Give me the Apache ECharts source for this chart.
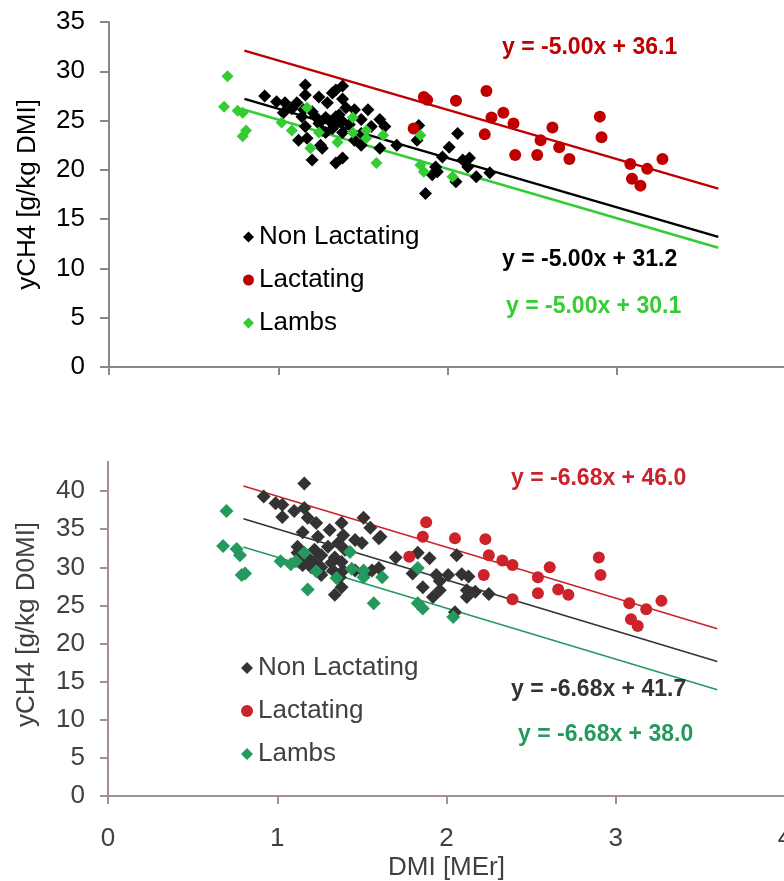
<!DOCTYPE html>
<html>
<head>
<meta charset="utf-8">
<script src="https://cdn.jsdelivr.net/npm/echarts@6/dist/echarts.min.js"></script>
<style>
  html, body { margin: 0; padding: 0; background: #fff; }
  #chart { width: 784px; height: 881px; }
</style>
</head>
<body>
<div id="chart"></div>
<script>
// groups shown in both panels
const groups = ['Non Lactating', 'Lactating', 'Lambs']

// top panel points [DMI, yCH4 g/kg DMI]
const topNonLact = [
  [0.92, 27.5], [0.99, 26.9], [1.04, 26.8], [1.03, 25.8], [1.16, 28.6], [1.16, 27.6], [1.11, 26.8],
  [1.15, 26.1], [1.24, 27.4], [1.32, 27.8], [1.38, 28.5], [1.34, 28.1], [1.29, 26.8], [1.38, 27.2],
  [1.14, 25.4], [1.22, 25.4], [1.28, 25.3], [1.34, 25.4], [1.40, 26.3], [1.45, 26.1], [1.53, 26.1],
  [1.34, 24.7], [1.38, 24.9], [1.24, 24.7], [1.16, 24.4], [1.28, 23.8], [1.38, 23.8], [1.49, 25.1],
  [1.49, 23.7], [1.55, 24.4], [1.60, 25.1], [1.63, 24.4], [1.12, 23.0], [1.17, 23.2], [1.25, 22.5],
  [1.26, 22.2], [1.20, 21.0], [1.38, 21.2], [1.34, 20.7], [1.49, 22.5], [1.45, 23.0], [1.60, 22.2],
  [1.70, 22.5], [1.83, 24.5], [1.82, 23.0], [1.30, 25.0], [1.32, 24.2], [1.36, 25.6], [1.42, 24.6],
  [1.26, 24.0], [1.20, 25.9], [1.08, 26.2], [1.87, 17.6], [2.06, 23.7], [2.01, 22.3], [1.97, 21.3],
  [1.93, 20.3], [1.91, 19.5], [1.94, 19.8], [2.05, 18.8], [2.09, 21.0], [2.13, 21.2], [2.12, 20.3],
  [2.17, 19.3], [2.25, 19.7]
]
const topLact = [
  [1.80, 24.2], [1.86, 27.4], [1.88, 27.1], [2.05, 27.0], [2.23, 28.0], [2.22, 23.6], [2.26, 25.3],
  [2.33, 25.8], [2.39, 24.7], [2.40, 21.5], [2.53, 21.5], [2.55, 23.0], [2.62, 24.3], [2.66, 22.3],
  [2.72, 21.1], [2.90, 25.4], [2.91, 23.3], [3.08, 20.6], [3.09, 19.1], [3.14, 18.4], [3.18, 20.1],
  [3.27, 21.1]
]
const topLambs = [
  [0.70, 29.5], [0.68, 26.4], [0.76, 26.0], [0.79, 25.8], [0.81, 24.0], [0.79, 23.4], [1.02, 24.8],
  [1.08, 24.0], [1.17, 26.3], [1.24, 23.8], [1.19, 22.2], [1.35, 22.8], [1.44, 25.3], [1.44, 23.8],
  [1.52, 24.0], [1.52, 23.2], [1.58, 20.7], [1.62, 23.5], [1.84, 23.5], [1.84, 20.5], [1.86, 19.8],
  [2.03, 19.3]
]

// bottom panel points [DMI, yCH4 g/kg D0MI]
const botNonLact = [
  [1.16, 41.0], [0.92, 39.3], [0.99, 38.4], [1.03, 38.2], [1.03, 36.6], [1.10, 37.4], [1.16, 37.8],
  [1.18, 36.5], [1.23, 35.8], [1.38, 35.8], [1.51, 36.5], [1.55, 35.2], [1.60, 33.8], [1.31, 34.9],
  [1.15, 34.6], [1.24, 34.0], [1.39, 34.2], [1.46, 33.6], [1.50, 33.2], [1.12, 32.7], [1.22, 32.3],
  [1.30, 32.7], [1.36, 33.2], [1.40, 32.3], [1.12, 31.9], [1.18, 31.3], [1.26, 31.6], [1.34, 31.3],
  [1.13, 30.7], [1.22, 30.7], [1.32, 30.6], [1.38, 30.7], [1.15, 30.3], [1.26, 30.0], [1.33, 29.6],
  [1.39, 29.6], [1.20, 30.0], [1.26, 29.0], [1.37, 28.7], [1.38, 27.4], [1.34, 26.4], [1.46, 29.6],
  [1.56, 29.6], [1.60, 29.9], [1.52, 29.2], [1.70, 31.3], [1.83, 31.9], [1.61, 34.0], [1.90, 31.2],
  [1.80, 29.2], [1.94, 29.0], [1.96, 28.2], [2.01, 29.0], [1.86, 27.4], [1.96, 27.0], [1.92, 26.1],
  [2.06, 31.6], [2.09, 29.1], [2.13, 28.8], [2.12, 27.0], [2.12, 26.1], [2.17, 26.8], [2.25, 26.5],
  [2.05, 24.1]
]
const botLact = [
  [1.78, 31.4], [1.88, 35.9], [1.86, 34.0], [2.05, 33.8], [2.23, 33.7], [2.22, 29.0], [2.25, 31.6],
  [2.33, 30.9], [2.39, 30.3], [2.39, 25.8], [2.54, 28.7], [2.54, 26.6], [2.61, 30.0], [2.66, 27.1],
  [2.72, 26.4], [2.90, 31.3], [2.91, 29.0], [3.08, 25.3], [3.09, 23.2], [3.13, 22.3], [3.18, 24.5],
  [3.27, 25.6]
]
const botLambs = [
  [0.70, 37.4], [0.68, 32.8], [0.76, 32.4], [0.78, 31.6], [0.79, 29.0], [0.81, 29.2], [1.02, 30.8],
  [1.08, 30.4], [1.11, 30.8], [1.16, 31.9], [1.18, 27.1], [1.23, 29.5], [1.35, 28.6], [1.43, 32.0],
  [1.44, 29.8], [1.51, 29.6], [1.51, 28.7], [1.57, 25.3], [1.62, 28.7], [1.83, 29.9], [1.83, 25.3],
  [1.86, 24.6], [2.04, 23.5]
]

// fitted lines, end points at DMI 0.8 and 3.6
const trendX = [0.8, 3.6]
const topTrendY = { lact: [32.1, 18.1], nonLact: [27.2, 13.2], lambs: [26.1, 12.1] }
const botTrendY = { lact: [40.66, 21.95], nonLact: [36.36, 17.65], lambs: [32.66, 13.95] }

const topEq = ['y = -5.00x + 36.1', 'y = -5.00x + 31.2', 'y = -5.00x + 30.1']
const botEq = ['y = -6.68x + 46.0', 'y = -6.68x + 41.7', 'y = -6.68x + 38.0']

const xTicks = [0, 1, 2, 3, 4]

const topColors = { nonLact: '#000000', lact: '#c00000', lambs: '#33cc33' }
const botColors = { nonLact: '#333333', lact: '#cc2229', lambs: '#24995e' }

const FONT = '"Liberation Sans", Arial, sans-serif'

function line(pts, xi, color, width) {
  return {
    type: 'line', xAxisIndex: xi, yAxisIndex: xi, silent: true,
    data: trendX.map((x, i) => [x, pts[i]]),
    symbol: 'none', lineStyle: { color: color, width: width }, z: 1
  }
}
function scatter(name, pts, xi, color, symbol, size) {
  return {
    type: 'scatter', name: name, xAxisIndex: xi, yAxisIndex: xi,
    data: pts, symbol: symbol, symbolSize: size,
    itemStyle: { color: color, opacity: 1 }, z: 2
  }
}

const series = [
  line(topTrendY.lact, 0, topColors.lact, 2.5),
  line(topTrendY.nonLact, 0, topColors.nonLact, 2.5),
  line(topTrendY.lambs, 0, topColors.lambs, 2.5),
  scatter(groups[0], topNonLact, 0, topColors.nonLact, 'diamond', 13),
  scatter(groups[1], topLact, 0, topColors.lact, 'circle', 12),
  scatter(groups[2], topLambs, 0, topColors.lambs, 'diamond', 12),
  line(botTrendY.lact, 1, botColors.lact, 1.6),
  line(botTrendY.nonLact, 1, botColors.nonLact, 1.6),
  line(botTrendY.lambs, 1, botColors.lambs, 1.6),
  scatter(groups[0] + ' ', botNonLact, 1, botColors.nonLact, 'diamond', 14),
  scatter(groups[1] + ' ', botLact, 1, botColors.lact, 'circle', 12),
  scatter(groups[2] + ' ', botLambs, 1, botColors.lambs, 'diamond', 14)
]

function eqText(txt, x, y, color) {
  return {
    type: 'text', x: x, y: y, z: 10,
    style: { text: txt, fill: color, font: 'bold 23px ' + FONT, textVerticalAlign: 'middle' }
  }
}

const option = {
  animation: false,
  backgroundColor: '#ffffff',
  grid: [
    { left: 109, top: 22, width: 677, height: 345, outerBoundsMode: 'none' },
    { left: 108, top: 453, width: 677, height: 343, outerBoundsMode: 'none' }
  ],
  xAxis: [
    {
      gridIndex: 0, type: 'value', min: 0, max: 4, interval: 1,
      axisLine: { lineStyle: { color: '#888888', width: 2 } },
      axisTick: { length: 8, lineStyle: { color: '#888888', width: 2 } },
      axisLabel: { show: false },
      splitLine: { show: false }
    },
    {
      gridIndex: 1, type: 'value', min: 0, max: 4, interval: 1,
      axisLine: { lineStyle: { color: '#a09090', width: 2 } },
      axisTick: { length: 8, lineStyle: { color: '#a09090', width: 2 } },
      axisLabel: { margin: 30, fontSize: 26, fontFamily: FONT, color: '#404040',
        formatter: v => xTicks.includes(v) ? String(v) : '' },
      splitLine: { show: false },
      name: 'DMI [MEr]', nameLocation: 'middle', nameGap: 59,
      nameTextStyle: { fontSize: 26, fontFamily: FONT, color: '#404040' }
    }
  ],
  yAxis: [
    {
      gridIndex: 0, type: 'value', min: 0, max: 35, interval: 5,
      axisLine: { show: true, lineStyle: { color: '#888888', width: 2 } },
      axisTick: { show: true, length: 9, lineStyle: { color: '#888888', width: 2 } },
      axisLabel: { margin: 24, fontSize: 26, fontFamily: FONT, color: '#000000' },
      splitLine: { show: false },
      name: 'yCH4 [g/kg DMI]', nameLocation: 'middle', nameGap: 68,
      nameTextStyle: { fontSize: 26, fontFamily: FONT, color: '#000000' }
    },
    {
      gridIndex: 1, type: 'value', min: 0, max: 45, interval: 5,
      axisLine: { show: true, lineStyle: { color: '#a09090', width: 2 } },
      axisTick: { show: true, length: 8, lineStyle: { color: '#a09090', width: 2 } },
      axisLabel: { margin: 23, fontSize: 26, fontFamily: FONT, color: '#404040' },
      splitLine: { show: false },
      name: 'yCH4 [g/kg D0MI]', nameLocation: 'middle', nameGap: 68,
      nameTextStyle: { fontSize: 26, fontFamily: FONT, color: '#404040' }
    }
  ],
  legend: [
    {
      orient: 'vertical', left: 238, top: 217, selectedMode: false,
      itemWidth: 11, itemHeight: 11, itemGap: 13,
      textStyle: { fontSize: 26, fontFamily: FONT, color: '#000000', lineHeight: 30 },
      data: [
        { name: groups[0], icon: 'diamond' },
        { name: groups[1], icon: 'circle' },
        { name: groups[2], icon: 'diamond' }
      ]
    },
    {
      orient: 'vertical', left: 236, top: 648, selectedMode: false,
      itemWidth: 12, itemHeight: 12, itemGap: 13,
      textStyle: { fontSize: 26, fontFamily: FONT, color: '#404040', lineHeight: 30 },
      data: [
        { name: groups[0] + ' ', icon: 'diamond' },
        { name: groups[1] + ' ', icon: 'circle' },
        { name: groups[2] + ' ', icon: 'diamond' }
      ]
    }
  ],
  graphic: [
    // top of the lower panel is cut off in the original
    { type: 'rect', shape: { x: 0, y: 392, width: 116, height: 69 }, style: { fill: '#ffffff' }, z: 100 },
    eqText(topEq[0], 502, 48, topColors.lact),
    eqText(topEq[1], 502, 260, topColors.nonLact),
    eqText(topEq[2], 506, 307, topColors.lambs),
    eqText(botEq[0], 511, 479, botColors.lact),
    eqText(botEq[1], 511, 690, botColors.nonLact),
    eqText(botEq[2], 518, 735, botColors.lambs)
  ],
  series: series
}

const myChart = echarts.init(document.getElementById('chart'))
myChart.setOption(option)
</script>
</body>
</html>
